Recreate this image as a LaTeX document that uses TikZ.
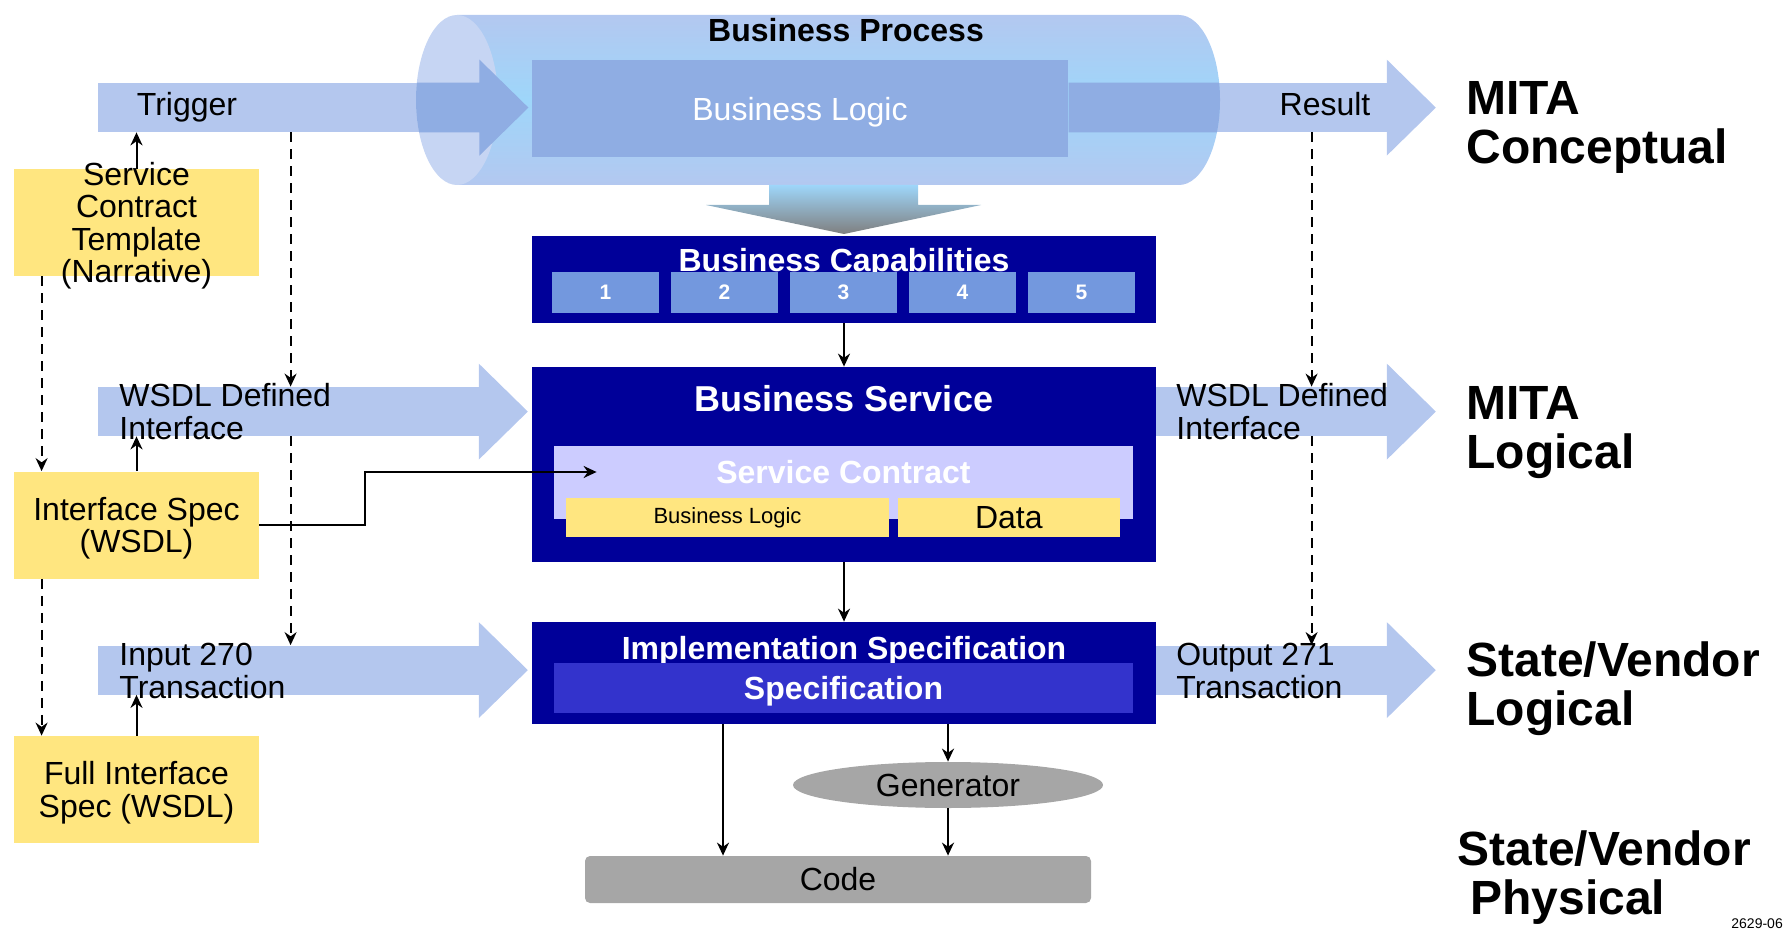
\documentclass[tikz,border=0pt]{standalone}
\usepackage{fontspec}
\setmainfont{Liberation Sans}
\usetikzlibrary{arrows.meta,positioning,shapes.geometric}

\definecolor{bandblue}{HTML}{B4C7EE}
\definecolor{banddark}{HTML}{8FADE3}
\definecolor{capblue}{HTML}{C6D5F3}
\definecolor{cyltop}{HTML}{B3C8F0}
\definecolor{cylmid}{HTML}{9ED6FA}
\definecolor{arrowgrey}{HTML}{7F7F7F}
\definecolor{navy}{HTML}{000099}
\definecolor{numblue}{HTML}{7398DE}
\definecolor{lavender}{HTML}{CCCCFF}
\definecolor{noteyellow}{HTML}{FFE680}
\definecolor{specblue}{HTML}{3333CC}
\definecolor{greybox}{HTML}{A6A6A6}

\begin{document}
\begin{tikzpicture}[x=0.5pt,y=-0.5pt,>={Stealth[length=6.5pt,width=6pt]},
   f16/.style={font=\fontsize{16}{16.5}\selectfont},
   f16b/.style={font=\fontsize{16}{16.5}\selectfont\bfseries},
   shaft/.style={fill=bandblue, inner sep=0, minimum height=24.5pt},
   bandtxt/.style={f16, anchor=base west, align=left, inner sep=0},
   darkbox/.style={fill=navy, inner sep=0, minimum width=312pt},
   innerbox/.style={inner sep=0, minimum width=289.5pt},
   capnum/.style={fill=numblue, inner sep=0, minimum width=53.5pt, minimum height=20.5pt, text=white, font=\fontsize{10.5}{12}\selectfont\bfseries},
   note/.style={fill=noteyellow, inner sep=0, inner ysep=-6pt, text depth=0pt, minimum width=122.5pt, minimum height=53.5pt, align=center, font=\fontsize{16}{16.25}\selectfont},
   tier/.style={anchor=base west, align=left, inner sep=0, font=\fontsize{24}{24.5}\selectfont\bfseries},
   link/.style={->, line width=1pt},
   hint/.style={->, line width=0.9pt, dash pattern=on 5pt off 3.5pt}]
   \useasboundingbox (0,0) rectangle (1787,930);

   % flow bands
   \node[shaft, minimum width=190.5pt] (trigger) at (288.5,107.5) {};
   \node[shaft, minimum width=159pt] (result) at (1228,107.5) {};
   \node[shaft, minimum width=190.5pt] (wsdlL) at (288.5,411.5) {};
   \node[shaft, minimum width=190.5pt] (in270) at (288.5,670) {};
   \node[shaft, minimum width=115.5pt] (wsdlR) at (1271.5,411.5) {};
   \node[shaft, minimum width=115.5pt] (out271) at (1271.5,670) {};
   \foreach \b in {trigger,result,wsdlL,in270,wsdlR,out271}
     \fill[bandblue] ([xshift=-0.3pt]\b.north east) -- ++(0,-23) -- ++(49,48) -- ++(-49,48) -- ([xshift=-0.3pt]\b.south east) -- cycle;

   % business process cylinder
   \shade[top color=cyltop, bottom color=cyltop, middle color=cylmid] (457,15) -- (1179,15)
     arc[start angle=90, end angle=-90, x radius=20.5pt, y radius=42.5pt] -- (457,185) -- cycle;
   \fill[capblue] (457,100) ellipse[x radius=20.5pt, y radius=42.5pt];
   \begin{scope}
     \clip (457,15) arc[start angle=90, end angle=270, x radius=20.5pt, y radius=42.5pt] -- (1179,185)
       arc[start angle=-90, end angle=90, x radius=20.5pt, y radius=42.5pt] -- cycle;
     \foreach \b in {trigger,result}
       \fill[banddark] (\b.north west) rectangle (\b.south east)
         (\b.north east) -- ++(0,-23) -- ++(49,48) -- ++(-49,48) -- (\b.south east) -- cycle;
   \end{scope}
   \shade[top color=cylmid, bottom color=arrowgrey] (769,185) -- (918,185) -- (918,205) -- (981,205)
     -- (844,234) -- (706,205) -- (769,205) -- cycle;
   \node[fill=banddark, inner sep=0, text depth=0pt, minimum width=268pt, minimum height=48.5pt, text=white, f16] (blogic) at (800,109) {Business Logic};
   \node[f16b, anchor=base] (bproc) at (846,42) {Business Process};

   \node[bandtxt, anchor=base] (trigtxt) at (187,116) {Trigger};
   \node[bandtxt, anchor=base] (restxt) at (1325,116) {Result};
   \node[bandtxt] (wsdlLtxt) at (119,439) {WSDL Defined\\Interface};
   \node[bandtxt] (in270txt) at (119,698) {Input 270\\Transaction};
   \node[bandtxt] (wsdlRtxt) at (1176,439) {WSDL Defined\\Interface};
   \node[bandtxt] (out271txt) at (1176,698) {Output 271\\Transaction};

   % capabilities
   \node[darkbox, minimum height=43.5pt] (caps) at (844,279.5) {};
   \node[f16b, text=white, anchor=base] (capstitle) at (844,272) {Business Capabilities};
   \foreach \n in {1,...,5}
     \node[capnum] (cap\n) at ({486.5+119*\n},292.5) {\n};

   % business service
   \node[darkbox, minimum height=97.5pt] (bs) at (844,464.5) {};
   \node[font=\fontsize{18}{20}\selectfont\bfseries, text=white, anchor=base] (bstitle) at (844,411) {Business Service};
   \node[innerbox, fill=lavender, minimum height=36.5pt] (sc) at (843.5,482.5) {};
   \node[f16b, text=white, anchor=base] (sctitle) at (843.5,483.5) {Service Contract};
   \node[fill=noteyellow, inner sep=0, minimum width=161.5pt, minimum height=19.5pt, font=\fontsize{11}{12}\selectfont] (bl) at (727.5,517.5) {Business Logic};
   \node[fill=noteyellow, inner sep=0, minimum width=111pt, minimum height=19.5pt, f16, right=4pt of bl] (data) {Data};

   % implementation
   \node[darkbox, minimum height=51pt] (impl) at (844,673) {};
   \node[f16b, text=white, anchor=base] (impltitle) at (844,659) {Implementation Specification};
   \node[innerbox, fill=specblue, text depth=0pt, minimum height=25pt, f16b, text=white] (spec) at (843.5,688) {Specification};
   \node[ellipse, fill=greybox, minimum width=155pt, minimum height=23pt, inner sep=0, f16] (gen) at (948,785) {Generator};
   \node[fill=greybox, rounded corners=2.5pt, minimum width=253pt, minimum height=23.5pt, inner sep=0, f16] (code) at (838,879.5) {Code};

   % documents
   \node[note] (sct) at (136.5,222.5) {Service\\Contract\\Template\\(Narrative)};
   \node[note] (ispec) at (136.5,525) {Interface Spec\\(WSDL)};
   \node[note] (fis) at (136.5,789.5) {Full Interface\\Spec (WSDL)};

   % levels
   \node[tier] (concept) at (1466,164) {MITA\\Conceptual};
   \node[tier] (logical) at (1466,468) {MITA\\Logical};
   \node[tier] (svlogical) at (1466,725) {State/Vendor\\Logical};
   \node[tier] (svphysical) at (1457,914) {State/Vendor\\\hspace*{6.5pt}Physical};
   \node[anchor=base west, inner sep=0, font=\fontsize{7}{8}\selectfont] (tag) at (1731,928) {2629-06};

   % connectors
   \draw[link] (caps) -- (bs);
   \draw[link] (bs) -- (impl);
   \draw[link] (impl.south -| gen) -- (gen);
   \draw[link] (gen) -- (gen |- code.north);
   \draw[link] ([xshift=-57.5pt]code.north |- impl.south) -- ([xshift=-57.5pt]code.north);
   \draw[link] (sct.north) -- (sct.north |- trigger.south);
   \draw[link] (ispec.north) -- (ispec.north |- wsdlL.south);
   \draw[link] (fis.north) -- (fis.north |- in270.south);
   \draw[link] (ispec.east) -- ++(106,0) |- ([xshift=21.5pt,yshift=5.25pt]sc.west);
   \draw[hint] ([xshift=14pt]sct.south west) -- ([xshift=14pt]ispec.north west);
   \draw[hint] ([xshift=14pt]ispec.south west) -- ([xshift=14pt]fis.north west);
   \draw[hint] ([xshift=96.5pt]trigger.south west) -- ([xshift=96.5pt]wsdlL.north west);
   \draw[hint] ([xshift=96.5pt]wsdlL.south west) -- ([xshift=96.5pt]in270.north west);
   \draw[hint] ([xshift=78pt]wsdlR.north west |- result.south) -- ([xshift=78pt]wsdlR.north west);
   \draw[hint] ([xshift=78pt]wsdlR.south west) -- ([xshift=78pt]out271.north west);
\end{tikzpicture}
\end{document}
